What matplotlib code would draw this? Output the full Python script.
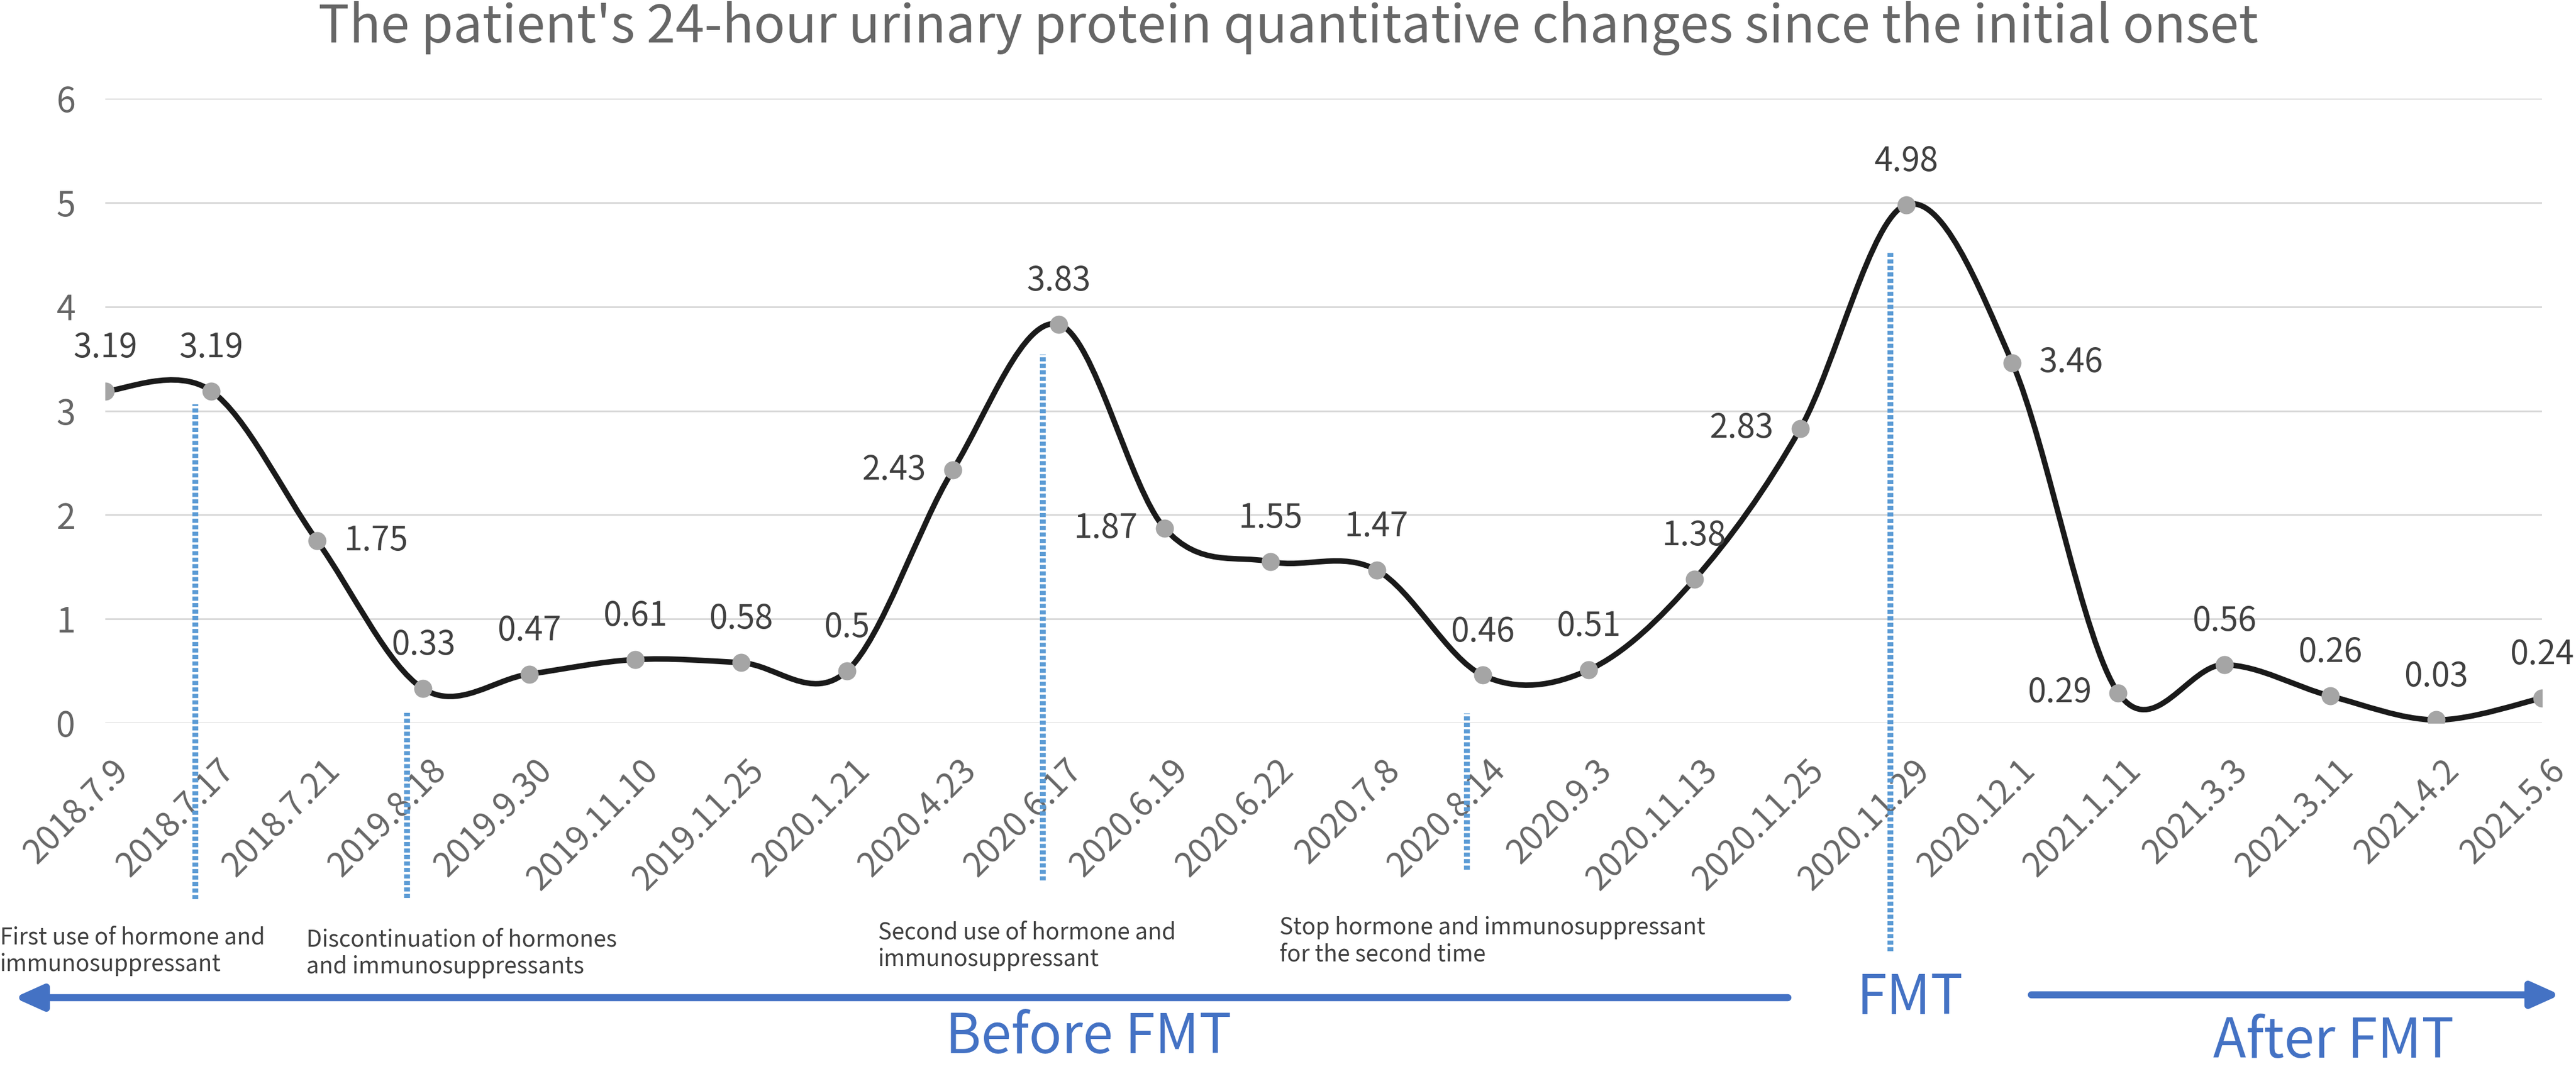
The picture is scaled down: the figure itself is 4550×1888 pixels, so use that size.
import matplotlib
matplotlib.use('Agg')
import matplotlib.pyplot as plt
import matplotlib.transforms as mtransforms
from matplotlib.path import Path
from matplotlib.patches import PathPatch, FancyArrowPatch

plt.rcParams['font.family'] = ['Noto Sans CJK SC', 'DejaVu Sans']

# ---- data ----
dates = ['2018.7.9', '2018.7.17', '2018.7.21', '2019.8.18', '2019.9.30',
         '2019.11.10', '2019.11.25', '2020.1.21', '2020.4.23', '2020.6.17',
         '2020.6.19', '2020.6.22', '2020.7.8', '2020.8.14', '2020.9.3',
         '2020.11.13', '2020.11.25', '2020.11.29', '2020.12.1', '2021.1.11',
         '2021.3.3', '2021.3.11', '2021.4.2', '2021.5.6']
protein = [3.19, 3.19, 1.75, 0.33, 0.47, 0.61, 0.58, 0.5, 2.43, 3.83,
           1.87, 1.55, 1.47, 0.46, 0.51, 1.38, 2.83, 4.98, 3.46, 0.29,
           0.56, 0.26, 0.03, 0.24]
# where Excel put each data label
label_side = ['above', 'above', 'right', 'above', 'above', 'above', 'above',
              'above', 'left', 'above', 'left', 'above', 'above', 'above',
              'above', 'above', 'left', 'above', 'right', 'left', 'above',
              'above', 'above', 'above']

event_idx = [1, 3, 9, 13, 17]
event_top = [3.06, 0.10, 3.54, 0.09, 4.52]
event_bottom = [-1.69, -1.68, -1.51, -1.41, -2.19]
event_text = ['First use of hormone and\nimmunosuppressant',
              'Discontinuation of hormones\nand immunosuppressants',
              'Second use of hormone and\nimmunosuppressant',
              'Stop hormone and immunosuppressant\nfor the second time']
event_text_px = [(0, 1680), (541, 1684), (1551, 1671), (2260, 1662)]

W, H = 4550, 1888
fig = plt.figure(figsize=(W / 100, H / 100), dpi=100)
ax = fig.add_axes([186 / W, 1 - 1277 / H, (4490 - 186) / W, (1277 - 174) / H])


def fig_xy(px, py):
    return px / W, 1 - py / H


x = list(range(len(protein)))

# Excel style smoothed line: cubic Bezier through each pair of points
verts = [(x[0], protein[0])]
codes = [Path.MOVETO]
n = len(protein)
for i in range(n - 1):
    p0 = (x[max(i - 1, 0)], protein[max(i - 1, 0)])
    p1 = (x[i], protein[i])
    p2 = (x[i + 1], protein[i + 1])
    p3 = (x[min(i + 2, n - 1)], protein[min(i + 2, n - 1)])
    c1 = (p1[0] + (p2[0] - p0[0]) / 6, p1[1] + (p2[1] - p0[1]) / 6)
    c2 = (p2[0] - (p3[0] - p1[0]) / 6, p2[1] - (p3[1] - p1[1]) / 6)
    verts += [c1, c2, p2]
    codes += [Path.CURVE4] * 3
ax.add_patch(PathPatch(Path(verts, codes), fill=False, edgecolor='#1a1a1a',
                       linewidth=7, capstyle='round', joinstyle='round', zorder=3))
ax.plot(x, protein, 'o', color='#a5a5a5', markersize=23, markeredgewidth=0, zorder=4)

# data labels
for xi, v, side in zip(x, protein, label_side):
    if side == 'above':
        off, ha = (0, 55), 'center'
    elif side == 'right':
        off, ha = (34, 0), 'left'
    else:
        off, ha = (-34, 0), 'right'
    ax.annotate(f'{v:g}', (xi, v), xytext=off, textcoords='offset points',
                ha=ha, va='center', fontsize=42, color='#404040', zorder=5)

# blue dotted event lines
for idx, top, bot in zip(event_idx, event_top, event_bottom):
    ax.plot([idx - 0.15, idx - 0.15], [bot, top], color='#5b9bd5', linewidth=7.5,
            linestyle=(0, (0.7, 0.4)), solid_capstyle='butt', clip_on=False, zorder=2)

ax.set_xlim(0, n - 1)
ax.set_ylim(0, 6)
ax.set_yticks(range(7))
ax.grid(axis='y', color='#d9d9d9', linewidth=2.2)
ax.set_axisbelow(True)
for s in ax.spines.values():
    s.set_visible(False)
ax.tick_params(axis='y', length=0, pad=38, labelsize=44, labelcolor='#666666')
ax.tick_params(axis='x', length=0, pad=38, labelsize=43, labelcolor='#666666')
ax.set_xticks(x)
ax.set_xticklabels(dates, rotation=45, ha='right', va='top', rotation_mode='anchor')
shift = mtransforms.ScaledTranslation(10 / 100, 0, fig.dpi_scale_trans)
for lab in ax.get_xticklabels():
    lab.set_transform(lab.get_transform() + shift)

fig.text(*fig_xy(2275, 50), "The patient's 24-hour urinary protein quantitative changes since the initial onset",
         ha='center', va='center', fontsize=66, color='#666666', fontweight='light')

for txt, (px, py) in zip(event_text, event_text_px):
    fig.text(*fig_xy(px, py), txt, ha='left', va='center', fontsize=29,
             color='#404040', linespacing=1.2)

blue = '#4472c4'
for start, end in [((3158, 1762), (25, 1762)), ((3588, 1757), (4522, 1757))]:
    fig.add_artist(FancyArrowPatch(fig_xy(*start), fig_xy(*end), transform=fig.transFigure,
                                   arrowstyle='-|>,head_length=1.0,head_width=0.45',
                                   mutation_scale=30, color=blue, linewidth=9,
                                   shrinkA=0, shrinkB=0))
fig.text(*fig_xy(1923, 1832), 'Before FMT', ha='center', va='center', fontsize=69, color=blue)
fig.text(*fig_xy(3373, 1763), 'FMT', ha='center', va='center', fontsize=69, color=blue)
fig.text(*fig_xy(4122, 1840), 'After FMT', ha='center', va='center', fontsize=69, color=blue)

fig.savefig('out.png', dpi=100, facecolor='white')
